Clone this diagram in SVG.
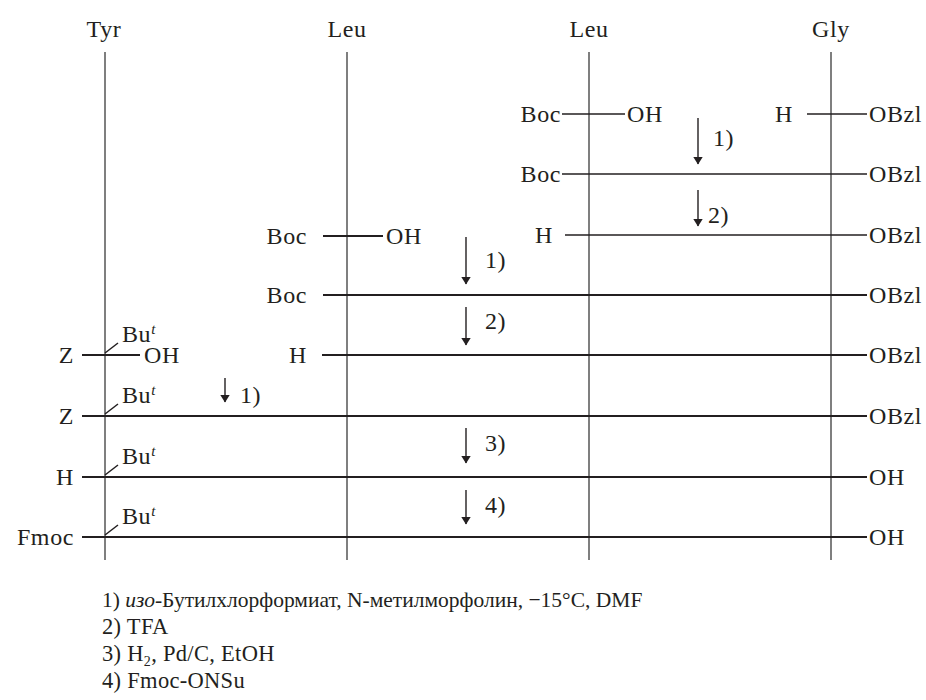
<svg xmlns="http://www.w3.org/2000/svg" width="926" height="700" viewBox="0 0 926 700">
<style>
.txt text{font-size:24px;fill:#231f20;letter-spacing:0.6px}
#legend text{font-size:22.5px;letter-spacing:0.3px}
#legend text.l1{font-size:21.5px;letter-spacing:0}
.e{text-anchor:end}
.m{text-anchor:middle}
.v{stroke:#555;stroke-width:1.5;fill:none}
.h{stroke:#231f20;stroke-width:2;fill:none}
.t{stroke:#231f20;stroke-width:1.5;fill:none}
.a{stroke:#231f20;stroke-width:1.4;fill:none;marker-end:url(#ah)}
</style>
<defs>
<marker id="ah" viewBox="0 0 8 14" refX="7.5" refY="7" markerWidth="8" markerHeight="14" markerUnits="userSpaceOnUse" orient="auto">
<path d="M0,2 L8,7 L0,12 Z" fill="#231f20"/>
</marker>
</defs>
<g class="txt" font-family="'Liberation Serif', 'Times New Roman', serif">
<g id="residues">
<g id="tyr"><text x="104" y="37" class="m">Tyr</text><line class="v" x1="105" y1="52" x2="105" y2="560"/></g>
<g id="leu1"><text x="347" y="37" class="m">Leu</text><line class="v" x1="347" y1="52" x2="347" y2="560"/></g>
<g id="leu2"><text x="589" y="37" class="m">Leu</text><line class="v" x1="589" y1="52" x2="589" y2="560"/></g>
<g id="gly"><text x="831" y="37" class="m">Gly</text><line class="v" x1="831" y1="52" x2="831" y2="560"/></g>
</g>
<g id="connectors">
<line class="t" x1="562" y1="114" x2="625" y2="114"/>
<line class="t" x1="807" y1="114" x2="867" y2="114"/>
<line class="t" x1="562" y1="174" x2="867" y2="174"/>
<line class="t" x1="565" y1="235" x2="867" y2="235"/>
<line class="h" x1="323" y1="236" x2="383" y2="236"/>
<line class="h" x1="323" y1="295" x2="867" y2="295"/>
<line class="h" x1="82" y1="355" x2="140" y2="355"/>
<line class="h" x1="322" y1="355" x2="867" y2="355"/>
<line class="h" x1="82" y1="416" x2="867" y2="416"/>
<line class="h" x1="82" y1="477" x2="867" y2="477"/>
<line class="h" x1="82" y1="537" x2="867" y2="537"/>
<line class="t" x1="105" y1="353" x2="118" y2="343"/>
<line class="t" x1="105" y1="414" x2="118" y2="404"/>
<line class="t" x1="105" y1="475" x2="118" y2="465"/>
<line class="t" x1="105" y1="535" x2="118" y2="525"/>
<line class="a" x1="698" y1="118" x2="698" y2="164"/>
<line class="a" x1="698" y1="190" x2="698" y2="226"/>
<line class="a" x1="466" y1="237" x2="466" y2="284"/>
<line class="a" x1="466" y1="307" x2="466" y2="345"/>
<line class="a" x1="225" y1="378" x2="225" y2="402"/>
<line class="a" x1="466" y1="428" x2="466" y2="463"/>
<line class="a" x1="466" y1="490" x2="466" y2="524"/>
</g>
<g id="labels">
<text x="561" y="122" class="e">Boc</text><text x="627" y="122">OH</text>
<text x="793" y="122" class="e">H</text><text x="869" y="122">OBzl</text>
<text x="713" y="146">1)</text>
<text x="561" y="182" class="e">Boc</text><text x="869" y="182">OBzl</text>
<text x="708" y="223">2)</text>
<text x="553" y="243" class="e">H</text><text x="869" y="243">OBzl</text>
<text x="307" y="244" class="e">Boc</text><text x="386" y="244">OH</text>
<text x="485" y="268">1)</text>
<text x="307" y="303" class="e">Boc</text><text x="869" y="303">OBzl</text>
<text x="485" y="329">2)</text>
<text x="74" y="363" class="e">Z</text><text x="144" y="363">OH</text>
<text x="307" y="363" class="e">H</text><text x="869" y="363">OBzl</text>
<text x="240" y="403">1)</text>
<text x="74" y="424" class="e">Z</text><text x="869" y="424">OBzl</text>
<text x="485" y="451">3)</text>
<text x="74" y="485" class="e">H</text><text x="869" y="485">OH</text>
<text x="485" y="513">4)</text>
<text x="74" y="545" class="e">Fmoc</text><text x="869" y="545">OH</text>
<text x="122" y="342">Bu<tspan font-style="italic" font-size="15" dy="-8">t</tspan></text>
<text x="122" y="403">Bu<tspan font-style="italic" font-size="15" dy="-8">t</tspan></text>
<text x="122" y="464">Bu<tspan font-style="italic" font-size="15" dy="-8">t</tspan></text>
<text x="122" y="524">Bu<tspan font-style="italic" font-size="15" dy="-8">t</tspan></text>
</g>
<g id="legend">
<text x="102" y="607" class="l1">1) <tspan font-style="italic">изо</tspan>-Бутилхлорформиат, N-метилморфолин, −15°C, DMF</text>
<text x="102" y="634">2) TFA</text>
<text x="102" y="661">3) H<tspan font-size="14" dy="5">2</tspan><tspan dy="-5">, Pd/C, EtOH</tspan></text>
<text x="102" y="688">4) Fmoc-ONSu</text>
</g>
</g>
</svg>
